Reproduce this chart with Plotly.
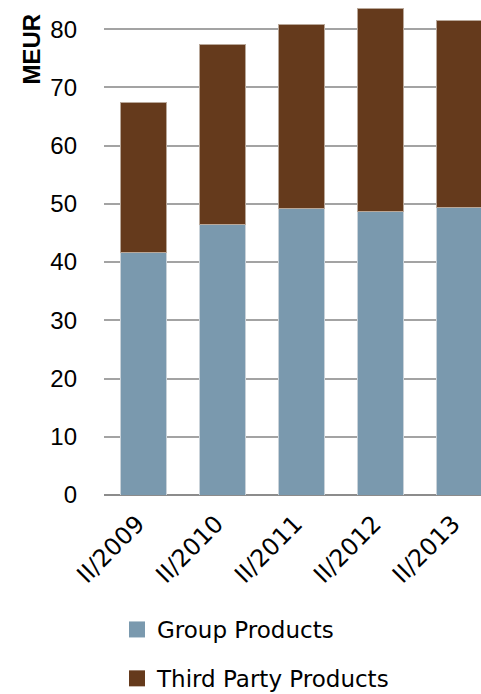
import plotly.graph_objects as go

periods = ["II/2009", "II/2010", "II/2011", "II/2012", "II/2013"]
group_products = [41.7, 46.5, 49.2, 48.6, 49.3]
third_party_products = [25.7, 30.9, 31.6, 34.9, 32.1]
y_ticks = [0, 10, 20, 30, 40, 50, 60, 70, 80]

blue = "#7a99ae"
brown = "#653a1c"
label_font = "DejaVu Sans, Verdana, sans-serif"

fig = go.Figure()
fig.add_trace(go.Bar(x=periods, y=group_products, name="Group Products",
                     marker=dict(color=blue, line=dict(color="#c9d2d9", width=1)),
                     width=0.58, showlegend=False))
fig.add_trace(go.Bar(x=periods, y=third_party_products, name="Third Party Products",
                     marker=dict(color=brown, line=dict(color="#b9a89a", width=1)),
                     width=0.58, showlegend=False))

# square legend swatches
for name, color in [("Group Products", blue), ("Third Party Products", brown)]:
    fig.add_trace(go.Scatter(x=[None], y=[None], mode="markers", name=name,
                             legendgroup=name,
                             marker=dict(symbol="square", size=18, color=color)))

fig.update_layout(
    width=481, height=694,
    margin=dict(l=104, r=0, t=0, b=199, autoexpand=False),
    barmode="stack",
    plot_bgcolor="white", paper_bgcolor="white",
    font=dict(family="Liberation Sans, Arial, sans-serif", color="black"),
    xaxis=dict(range=[-0.5, 4.278], showgrid=False, showline=False, zeroline=False,
               tickangle=-45, tickfont=dict(family=label_font, size=24), ticks="",
               ticklabelstandoff=9, ticklabelshift=-6, automargin=False),
    yaxis=dict(range=[0, 85], tickvals=y_ticks, showgrid=True, gridcolor="#a3a3a3",
               gridwidth=1.5, zeroline=True, zerolinecolor="#8c8c8c", zerolinewidth=2,
               tickfont=dict(size=24), ticklabelstandoff=26, showline=False,
               automargin=False),
    legend=dict(orientation="v", x=0.0345, xanchor="left",
                yref="container", y=1 - 608 / 694, yanchor="top",
                traceorder="grouped", tracegroupgap=16,
                font=dict(family=label_font, size=23), itemwidth=30),
    showlegend=True,
)

fig.add_annotation(text="<b>MEUR</b>", xref="paper", yref="paper",
                   x=(31.5 - 104) / 377, y=(495 - 49) / 495,
                   xanchor="center", yanchor="middle",
                   textangle=-90, showarrow=False, font=dict(size=24, color="black"))

fig.write_html("out.html")
